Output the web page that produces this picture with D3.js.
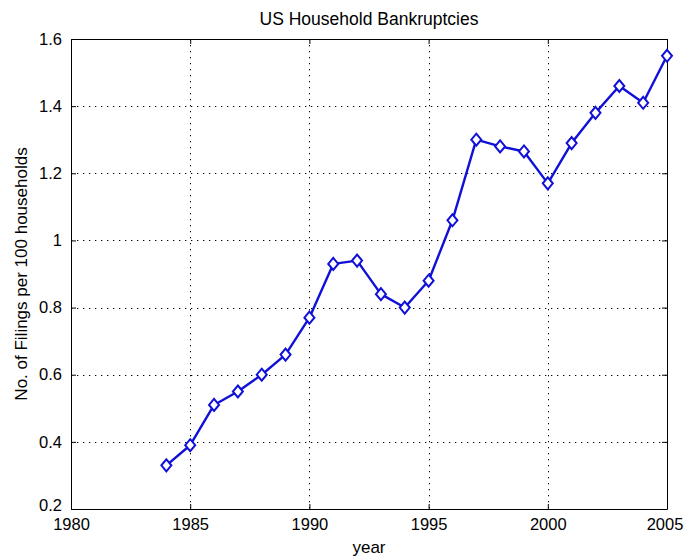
<!DOCTYPE html>
<html>
<head>
<meta charset="utf-8">
<script src="https://cdn.jsdelivr.net/npm/d3@7"></script>
<style>
  body { margin: 0; background: #fff; }
  text { font-family: "Liberation Sans", Arial, sans-serif; fill: #000; }
</style>
</head>
<body>
<svg></svg>
<script>
const years = [1984, 1985, 1986, 1987, 1988, 1989, 1990, 1991, 1992, 1993, 1994,
  1995, 1996, 1997, 1998, 1999, 2000, 2001, 2002, 2003, 2004, 2005];
const filings = [0.33, 0.39, 0.51, 0.55, 0.60, 0.66, 0.77, 0.93, 0.94, 0.84, 0.80,
  0.88, 1.06, 1.30, 1.28, 1.265, 1.17, 1.29, 1.38, 1.46, 1.41, 1.55];
const xTicks = [1980, 1985, 1990, 1995, 2000, 2005];
const yTicks = [0.2, 0.4, 0.6, 0.8, 1.0, 1.2, 1.4, 1.6];

const svg = d3.select("svg");
svg.attr("width", 684).attr("height", 558);
const margin = { top: 39, right: 17, bottom: 49, left: 71 };
const width = 684 - margin.left - margin.right;
const height = 558 - margin.top - margin.bottom;

const g = svg.append("g").attr("transform", `translate(${margin.left},${margin.top})`);

const x = d3.scaleLinear().domain([1980, 2005]).range([0, width]);
const y = d3.scaleLinear().domain([0.2, 1.6]).range([height, 0]);

const data = years.map((yr, i) => ({ year: yr, value: filings[i] }));

// dotted grid
g.selectAll(".vgrid")
  .data(xTicks.slice(1, -1))
  .enter().append("line")
  .attr("x1", d => Math.round(x(d)) + 0.5)
  .attr("x2", d => Math.round(x(d)) + 0.5)
  .attr("y1", 0).attr("y2", height)
  .attr("stroke", "#000").attr("stroke-width", 1)
  .attr("stroke-dasharray", "1.3,4.7");

g.selectAll(".hgrid")
  .data(yTicks.slice(1, -1))
  .enter().append("line")
  .attr("y1", d => Math.round(y(d)) + 0.5)
  .attr("y2", d => Math.round(y(d)) + 0.5)
  .attr("x1", 0).attr("x2", width)
  .attr("stroke", "#000").attr("stroke-width", 1)
  .attr("stroke-dasharray", "1.3,4.7");

// axes, ticks inside like matlab
const xAxis = g.append("g").attr("transform", `translate(0,${height})`)
  .call(d3.axisBottom(x).tickValues(xTicks).tickFormat(d3.format("d")).tickSizeInner(-5).tickSizeOuter(0).tickPadding(9));
const yAxis = g.append("g")
  .call(d3.axisLeft(y).tickValues(yTicks).tickFormat(d => d === 1 ? "1" : d3.format(".1f")(d)).tickSizeInner(-5).tickSizeOuter(0).tickPadding(9));
const xTop = g.append("g")
  .call(d3.axisTop(x).tickValues(xTicks).tickFormat("").tickSizeInner(-5).tickSizeOuter(0));
const yRight = g.append("g").attr("transform", `translate(${width},0)`)
  .call(d3.axisRight(y).tickValues(yTicks).tickFormat("").tickSizeInner(-5).tickSizeOuter(0));

[xAxis, yAxis, xTop, yRight].forEach(a => {
  a.select(".domain").attr("stroke", "#000");
  a.selectAll(".tick line").attr("stroke", "#000");
  a.selectAll("text").style("font-size", "16.5px").attr("fill", "#000");
});
// matlab puts the lowest y label a bit higher
yAxis.selectAll(".tick text").filter(d => d === 0.2).attr("dy", "0.1em");
// keep the last year label inside the window
xAxis.selectAll(".tick text").filter(d => d === 2005).attr("dx", "-0.15em");

// series line
const line = d3.line().x(d => x(d.year)).y(d => y(d.value));
g.append("path")
  .datum(data)
  .attr("fill", "none")
  .attr("stroke", "#1010d8")
  .attr("stroke-width", 2.4)
  .attr("stroke-linejoin", "round")
  .attr("d", line);

// diamond markers
g.selectAll(".marker")
  .data(data)
  .enter().append("path")
  .attr("class", "marker")
  .attr("transform", d => `translate(${x(d.year)},${y(d.value)})`)
  .attr("d", "M0,-6L5,0L0,6L-5,0Z")
  .attr("fill", "#fff")
  .attr("stroke", "#1010d8")
  .attr("stroke-width", 2);

// titles
svg.append("text")
  .attr("x", margin.left + width / 2)
  .attr("y", 25)
  .attr("text-anchor", "middle")
  .style("font-size", "17.5px")
  .text("US Household Bankruptcies");

svg.append("text")
  .attr("x", margin.left + width / 2)
  .attr("y", 553)
  .attr("text-anchor", "middle")
  .style("font-size", "17px")
  .text("year");

svg.append("text")
  .attr("transform", `translate(27, ${margin.top + height / 2}) rotate(-90)`)
  .attr("text-anchor", "middle")
  .style("font-size", "17px")
  .text("No. of Filings per 100 households");
</script>
</body>
</html>
